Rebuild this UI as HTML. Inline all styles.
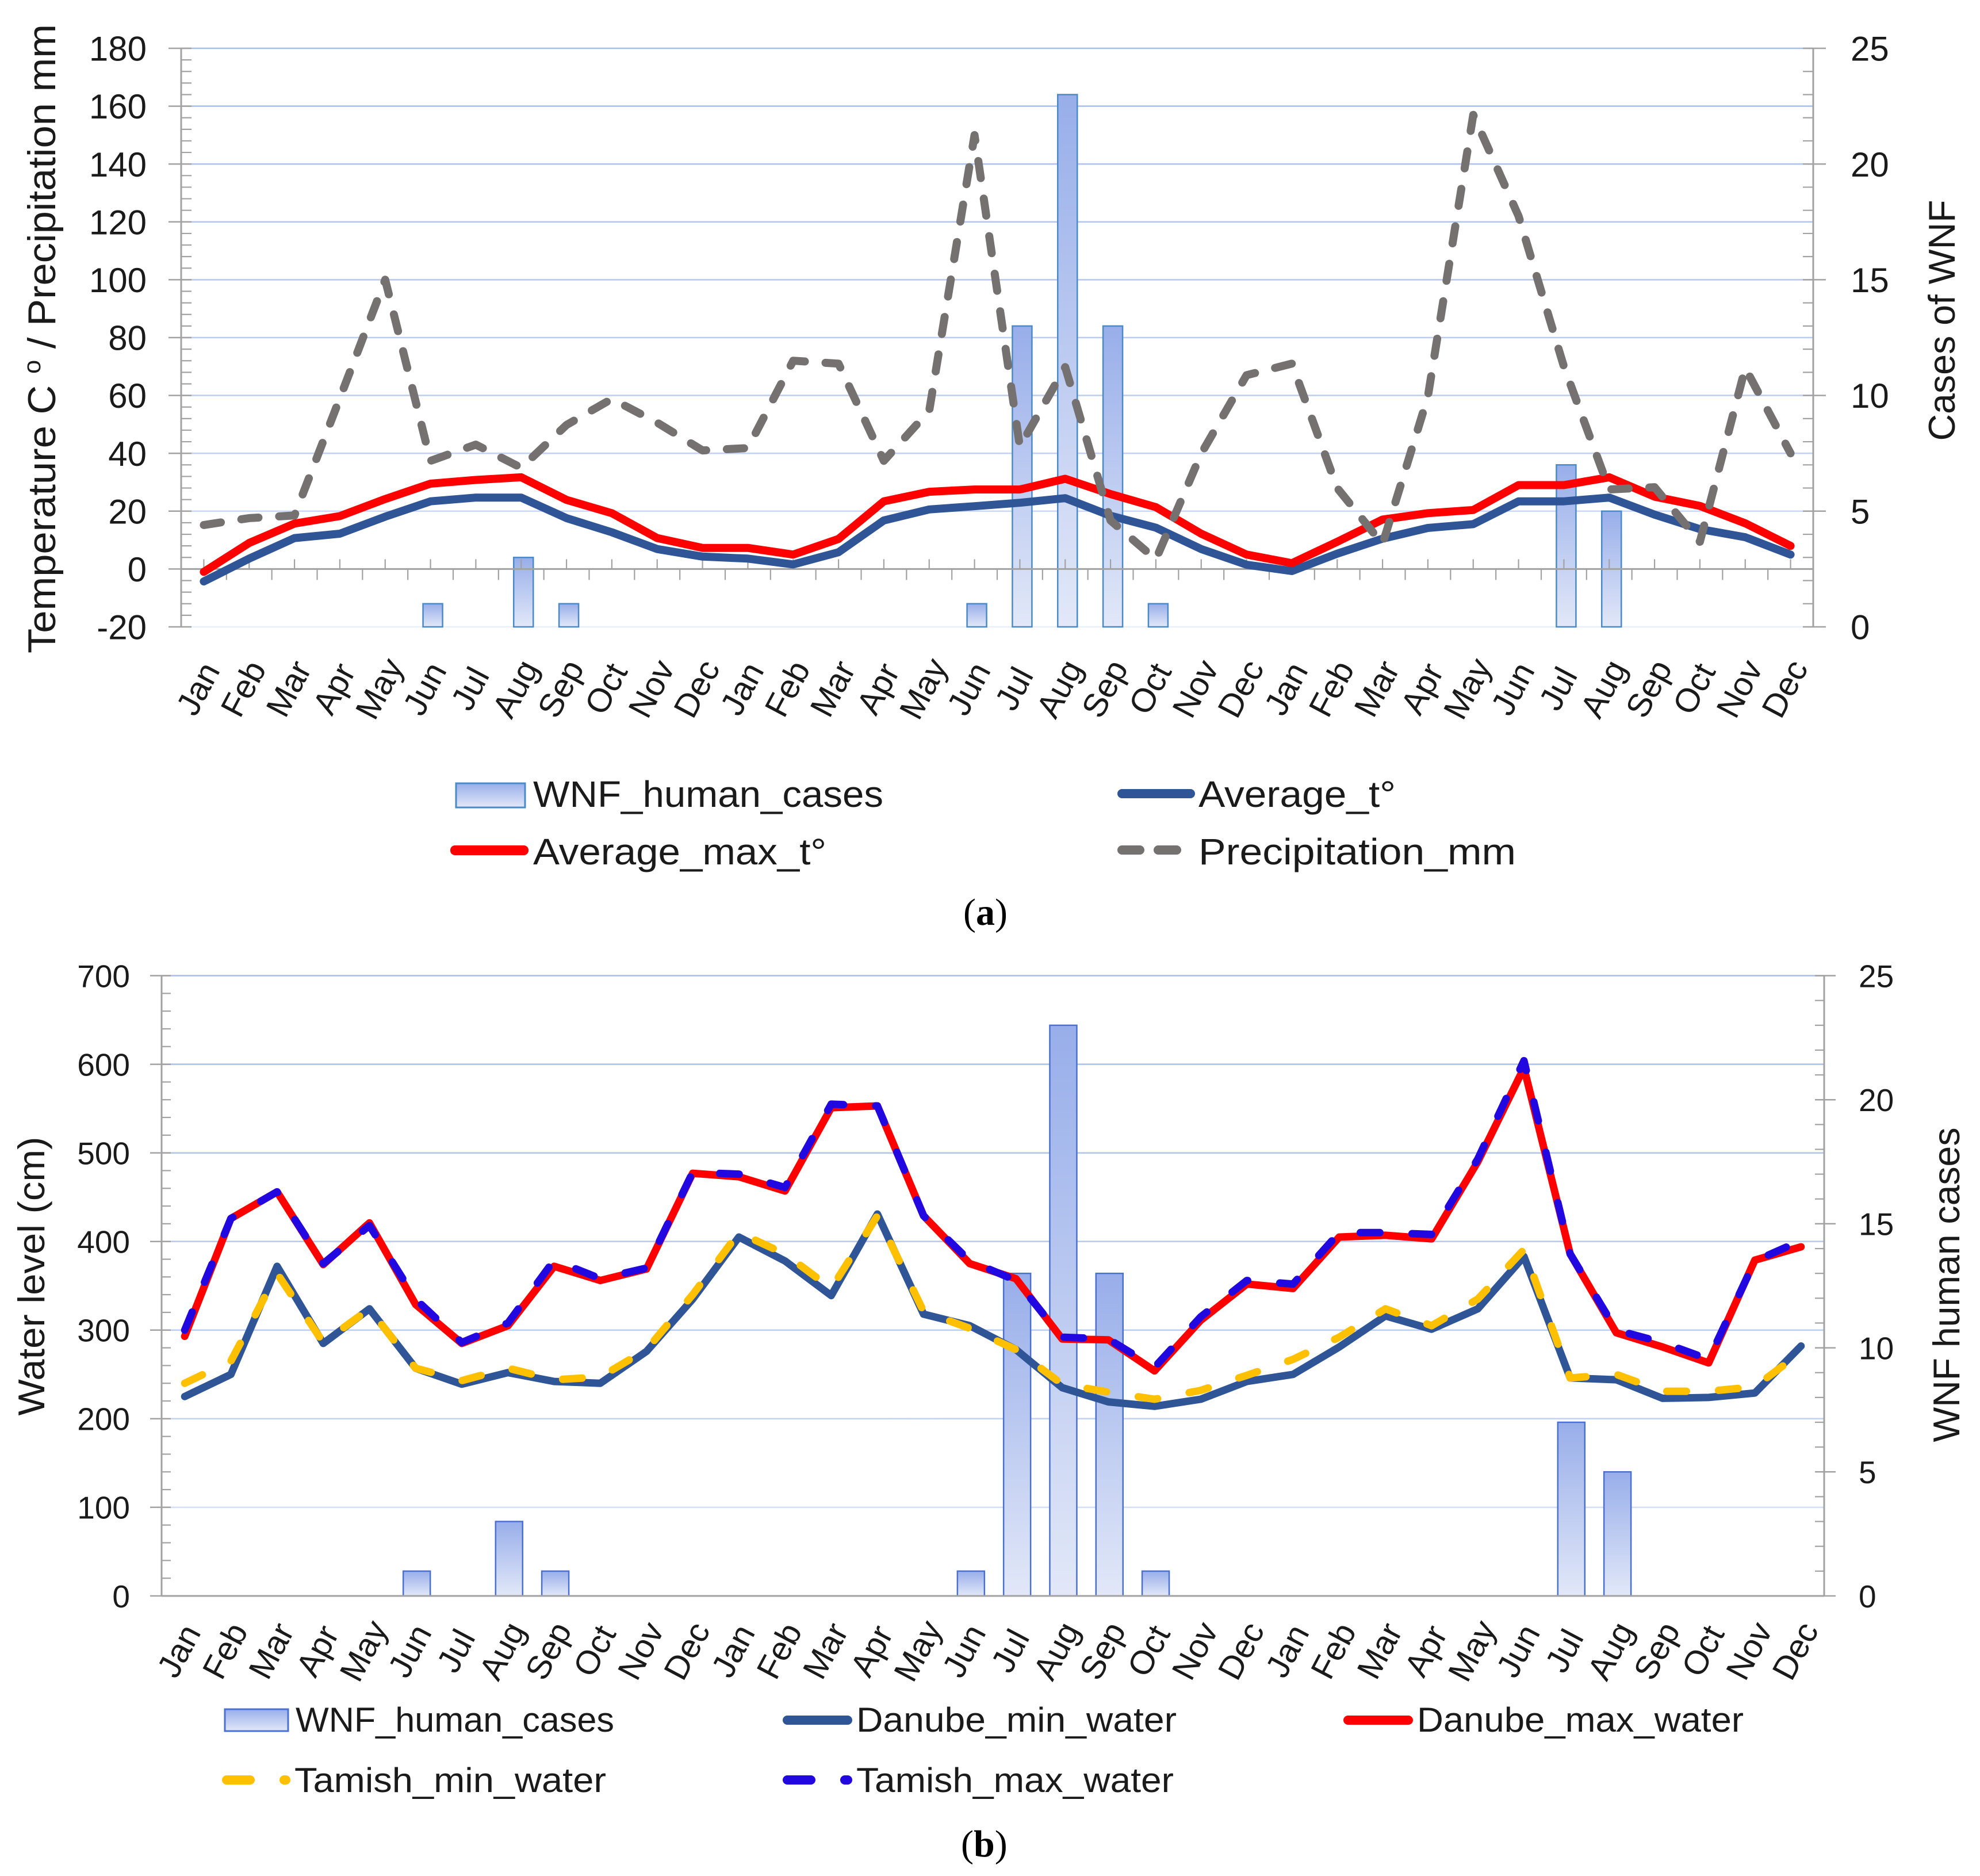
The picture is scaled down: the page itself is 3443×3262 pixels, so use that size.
<!DOCTYPE html>
<html lang="en">
<head>
<meta charset="utf-8">
<title>WNF human cases, climate and water level charts</title>
<style>
html,body{margin:0;padding:0;background:#fff;}
svg{display:block;}
text{font-family:"Liberation Sans",sans-serif;fill:#1a1a1a;}
.cap{font-family:"Liberation Serif",serif;font-size:66px;fill:#000;}
</style>
</head>
<body>
<svg id="figure" xmlns="http://www.w3.org/2000/svg" width="3443" height="3262" viewBox="0 0 3443 3262">
<defs>
<linearGradient id="barFill" x1="0" y1="0" x2="0" y2="1">
<stop offset="0" stop-color="#98aeea"/><stop offset="1" stop-color="#e2e8f8"/>
</linearGradient>
<linearGradient id="gridA" gradientUnits="userSpaceOnUse" x1="0" y1="80" x2="0" y2="1095">
<stop offset="0" stop-color="#a9bdec"/><stop offset="0.75" stop-color="#c5d3f2"/><stop offset="1" stop-color="#eaf0fb"/>
</linearGradient>
<linearGradient id="gridB" gradientUnits="userSpaceOnUse" x1="0" y1="1690" x2="0" y2="2780">
<stop offset="0" stop-color="#a9bdec"/><stop offset="0.75" stop-color="#c5d3f2"/><stop offset="1" stop-color="#eaf0fb"/>
</linearGradient>
</defs>

<g id="chartA"></g>
<g id="chartB"></g>

<text transform="translate(96 589) rotate(-90)" text-anchor="middle" font-size="68" textLength="1094" lengthAdjust="spacingAndGlyphs">Temperature C <tspan font-size="42" dy="-26">o</tspan><tspan dy="26"> / Precipitation mm</tspan></text>
<text transform="translate(3399 557) rotate(-90)" text-anchor="middle" font-size="65" textLength="419" lengthAdjust="spacingAndGlyphs">Cases of WNF</text>
<text transform="translate(77 2219) rotate(-90)" text-anchor="middle" font-size="65" textLength="485" lengthAdjust="spacingAndGlyphs">Water level (cm)</text>
<text transform="translate(3407 2234) rotate(-90)" text-anchor="middle" font-size="65" textLength="547" lengthAdjust="spacingAndGlyphs">WNF human cases</text>

<g font-size="64">
  <g>
    <rect x="793" y="1362" width="120" height="42" fill="url(#barFill)" stroke="#4a8ac8" stroke-width="3"/>
    <text x="927" y="1403" textLength="609" lengthAdjust="spacingAndGlyphs">WNF_human_cases</text>
  </g>
  <g>
    <rect x="1943" y="1372" width="135" height="16" rx="8" fill="#2f5597"/>
    <text x="2084" y="1403" textLength="343" lengthAdjust="spacingAndGlyphs">Average_t°</text>
  </g>
  <g>
    <rect x="783" y="1470" width="136" height="17" rx="8" fill="#ff0000"/>
    <text x="927" y="1503" textLength="510" lengthAdjust="spacingAndGlyphs">Average_max_t°</text>
  </g>
  <g>
    <rect x="1943" y="1470" width="47" height="16" rx="8" fill="#767171"/>
    <rect x="2006" y="1470" width="48" height="16" rx="8" fill="#767171"/>
    <text x="2084" y="1503" textLength="552" lengthAdjust="spacingAndGlyphs">Precipitation_mm</text>
  </g>
</g>
<text class="cap" x="1675" y="1608">(<tspan font-weight="bold">a</tspan>)</text>

<g font-size="60">
  <g>
    <rect x="391" y="2972" width="110" height="38" fill="url(#barFill)" stroke="#4a70d0" stroke-width="3"/>
    <text x="514" y="3011" textLength="554" lengthAdjust="spacingAndGlyphs">WNF_human_cases</text>
  </g>
  <g>
    <rect x="1361" y="2983" width="121" height="16" rx="8" fill="#2f5597"/>
    <text x="1489" y="3011" textLength="557" lengthAdjust="spacingAndGlyphs">Danube_min_water</text>
  </g>
  <g>
    <rect x="2336" y="2983" width="121" height="16" rx="8" fill="#ff0000"/>
    <text x="2464" y="3011" textLength="568" lengthAdjust="spacingAndGlyphs">Danube_max_water</text>
  </g>
  <g>
    <rect x="386" y="3087" width="57" height="16" rx="8" fill="#ffc000"/>
    <rect x="486" y="3087" width="19" height="16" rx="8" fill="#ffc000"/>
    <text x="512" y="3116" textLength="542" lengthAdjust="spacingAndGlyphs">Tamish_min_water</text>
  </g>
  <g>
    <rect x="1361" y="3087" width="57" height="16" rx="8" fill="#2208e0"/>
    <rect x="1461" y="3087" width="21" height="16" rx="8" fill="#2208e0"/>
    <text x="1489" y="3116" textLength="552" lengthAdjust="spacingAndGlyphs">Tamish_max_water</text>
  </g>
</g>
<text class="cap" x="1671" y="3228">(<tspan font-weight="bold">b</tspan>)</text>
</svg>

<script>
// ---- shared data ----
const months = ["Jan","Feb","Mar","Apr","May","Jun","Jul","Aug","Sep","Oct","Nov","Dec",
                "Jan","Feb","Mar","Apr","May","Jun","Jul","Aug","Sep","Oct","Nov","Dec",
                "Jan","Feb","Mar","Apr","May","Jun","Jul","Aug","Sep","Oct","Nov","Dec"];
const wnfCases = [0,0,0,0,0,1,0,3,1,0,0,0, 0,0,0,0,0,1,13,23,13,1,0,0, 0,0,0,0,0,0,7,5,0,0,0,0];

// ---- chart (a) ----
const leftTicksA = [-20,0,20,40,60,80,100,120,140,160,180];
const rightTicksA = [0,5,10,15,20,25];
const averageT = [-4.3,3.6,10.7,12.2,18.1,23.4,24.7,24.7,17.6,12.7,6.9,4.3,
                  3.6,1.6,5.8,16.8,20.6,21.7,22.9,24.5,18.4,14.3,6.9,1.5,
                  -0.7,5.3,10.5,14.2,15.5,23.4,23.4,24.7,18.8,13.8,11,5];
const averageMaxT = [-1,9,15.7,18.3,24.2,29.5,30.8,31.7,23.9,19.3,10.7,7.3,
                     7.3,5,10.4,23.4,26.7,27.5,27.5,31.2,25.9,21.4,12.2,5,
                     2,9.4,17.1,19.3,20.4,29,29,31.7,25,21.8,15.8,8];
const precipitation = [15.2,17.6,18.5,59,100,37.4,43,35,49.8,58.8,50.6,41,
                       41.8,72,71,37.4,54.7,150,42.3,69.8,16.8,3.3,39.9,67,
                       71,28,8.6,59.6,157,122,70,27.5,28.3,9.4,69.5,40];

// ---- chart (b) ----
const leftTicksB = [0,100,200,300,400,500,600,700];
const rightTicksB = [0,5,10,15,20,25];
const danubeMin = [225,250,372,285,324,257,239,252,242,240,276,335,
                   405,378,339,431,318,305,278,235,219,214,222,242,
                   250,281,316,301,324,383,246,244,223,224,229,282];
const danubeMax = [293,426,456,374,421,329,285,305,372,356,369,477,
                   473,457,551,553,429,375,358,290,289,254,311,352,
                   347,405,407,403,490,596,386,297,281,263,379,394];
const tamishMin = [240,265,364,286,324,257,243,257,244,247,278,340,
                   410,386,347,429,321,302,278,239,230,222,232,249,
                   267,292,324,305,335,391,246,250,231,231,236,275];
const tamishMax = [300,426,456,375,418,335,286,308,379,358,370,478,
                   476,461,555,553,429,378,356,292,290,258,315,356,
                   352,410,410,408,493,604,386,300,286,267,378,401];

const NS = "http://www.w3.org/2000/svg";
function mk(parent, tag, attrs, txt){
  const e = document.createElementNS(NS, tag);
  for (const k in attrs) e.setAttribute(k, attrs[k]);
  if (txt !== undefined) e.textContent = txt;
  parent.appendChild(e);
  return e;
}

function drawChart(root, cfg){
  const xAt = i => cfg.x0 + (i + 0.5) * (cfg.x1 - cfg.x0) / months.length;
  const yL = v => cfg.yTop + (cfg.leftMax - v) / (cfg.leftMax - cfg.leftMin) * (cfg.yBot - cfg.yTop);
  const yR = v => cfg.yTop + (cfg.rightMax - v) / cfg.rightMax * (cfg.yBot - cfg.yTop);
  const axisColor = "#a2a2a2";

  // gridlines
  cfg.leftTicks.forEach(v => {
    const g = mk(root, "line", {x1:cfg.x0, x2:cfg.x1, y1:yL(v)+0.01, y2:yL(v), stroke:cfg.grid, "stroke-width":2.6});
    
    
  });

  // bars
  const band = (cfg.x1 - cfg.x0) / months.length;
  wnfCases.forEach((c, i) => {
    if (!c) return;
    const r = mk(root, "rect", {x:xAt(i)+cfg.barShift-cfg.barW/2, y:yR(c), width:cfg.barW, height:yR(0)-yR(c),
      fill:"url(#barFill)", stroke:cfg.barStroke, "stroke-width":2.5});
    
    
  });

  // left axis
  const la = mk(root, "line", {x1:cfg.x0, x2:cfg.x0, y1:cfg.yTop, y2:cfg.yBot, stroke:axisColor, "stroke-width":3});
  
  
  const stepL = cfg.leftTicks[1] - cfg.leftTicks[0];
  cfg.leftTicks.forEach((v, n) => {
    const y = yL(v);
    const t = mk(root, "line", {x1:cfg.x0-cfg.majorOut, x2:cfg.x0+cfg.minorIn, y1:y, y2:y, stroke:axisColor, "stroke-width":2.5});
    
    
    const lab = mk(root, "text", {x:cfg.leftLabelX, y:y, dy:"0.36em", "text-anchor":"end", "font-size":cfg.tickFont}, String(v));
    
    
    if (n < cfg.leftTicks.length - 1) {
      for (let m = 1; m < cfg.minorPerMajor; m++) {
        const ym = yL(v + stepL * m / cfg.minorPerMajor);
        const mt = mk(root, "line", {x1:cfg.x0, x2:cfg.x0+cfg.minorIn, y1:ym, y2:ym, stroke:axisColor, "stroke-width":2.2});
        
        
      }
    }
  });

  // right axis
  const ra = mk(root, "line", {x1:cfg.x1, x2:cfg.x1, y1:cfg.yTop, y2:cfg.yBot, stroke:axisColor, "stroke-width":3});
  
  
  const stepR = cfg.rightTicks[1] - cfg.rightTicks[0];
  cfg.rightTicks.forEach((v, n) => {
    const y = yR(v);
    const t = mk(root, "line", {x1:cfg.x1-cfg.minorIn, x2:cfg.x1+cfg.majorOut, y1:y, y2:y, stroke:axisColor, "stroke-width":2.5});
    
    
    const lab = mk(root, "text", {x:cfg.rightLabelX, y:y, dy:"0.36em", "text-anchor":"start", "font-size":cfg.tickFont}, String(v));
    
    
    if (n < cfg.rightTicks.length - 1) {
      for (let m = 1; m < cfg.minorPerMajor; m++) {
        const ym = yR(v + stepR * m / cfg.minorPerMajor);
        const mt = mk(root, "line", {x1:cfg.x1-cfg.minorIn, x2:cfg.x1, y1:ym, y2:ym, stroke:axisColor, "stroke-width":2.2});
        
        
      }
    }
  });

  // x axis
  const y0 = yL(0);
  const xa = mk(root, "line", {x1:cfg.x0, x2:cfg.x1, y1:y0, y2:y0, stroke:axisColor, "stroke-width":3});
  
  
  months.forEach((m, i) => {
    if (cfg.xTicks) {
      const up = mk(root, "line", {x1:xAt(i), x2:xAt(i), y1:y0-17, y2:y0, stroke:axisColor, "stroke-width":2.2});
      
      
      const dn = mk(root, "line", {x1:xAt(i)+band/2, x2:xAt(i)+band/2, y1:y0, y2:y0+19, stroke:axisColor, "stroke-width":2.2});
      
      
    }
    const lx = xAt(i) - 11;
    const lab = mk(root, "text", {x:0, y:0, dy:"0.36em", "text-anchor":"middle", "font-size":cfg.monthFont,
      transform:"translate(" + lx + " " + cfg.monthY + ") rotate(-62)"}, m);
    
    
  });

  // series
  cfg.series.forEach(s => {
    const pts = s.values.map((v, i) => xAt(i).toFixed(1) + "," + yL(v).toFixed(1)).join(" ");
    const attrs = {points:pts, fill:"none", stroke:s.color, "stroke-width":s.width,
      "stroke-linecap":"round", "stroke-linejoin":"round"};
    if (s.dash) attrs["stroke-dasharray"] = s.dash;
    const line = mk(root, "polyline", attrs);
    
    
  });
}

drawChart(document.getElementById("chartA"), {
  x0:315, x1:3153, yTop:84, yBot:1090,
  leftMin:-20, leftMax:180, rightMax:25,
  leftTicks:leftTicksA, rightTicks:rightTicksA, minorPerMajor:5,
  majorOut:22, minorIn:18, leftLabelX:255, rightLabelX:3218,
  tickFont:60, monthFont:58, monthY:1197, barW:34, barShift:4, barStroke:"#4a8ac8",
  grid:"url(#gridA)", xTicks:true,
  series:[
    {name:"average-t-line", values:averageT, color:"#2f5597", width:14},
    {name:"average-max-t-line", values:averageMaxT, color:"#ff0000", width:14},
    {name:"precipitation-line", values:precipitation, color:"#767171", width:14, dash:"30 36"}
  ]
});

drawChart(document.getElementById("chartB"), {
  x0:281, x1:3172, yTop:1696.5, yBot:2775,
  leftMin:0, leftMax:700, rightMax:25,
  leftTicks:leftTicksB, rightTicks:rightTicksB, minorPerMajor:5,
  majorOut:20, minorIn:16, leftLabelX:226, rightLabelX:3232,
  tickFont:55, monthFont:58, monthY:2870, barW:47, barShift:2, barStroke:"#4a70d0",
  grid:"url(#gridB)", xTicks:false,
  series:[
    {name:"danube-min-line", values:danubeMin, color:"#2f5597", width:13},
    {name:"danube-max-line", values:danubeMax, color:"#ff0000", width:13},
    {name:"tamish-min-line", values:tamishMin, color:"#ffc000", width:13, dash:"34 56"},
    {name:"tamish-max-line", values:tamishMax, color:"#2208e0", width:13, dash:"34 56"}
  ]
});
</script>
</body>
</html>
